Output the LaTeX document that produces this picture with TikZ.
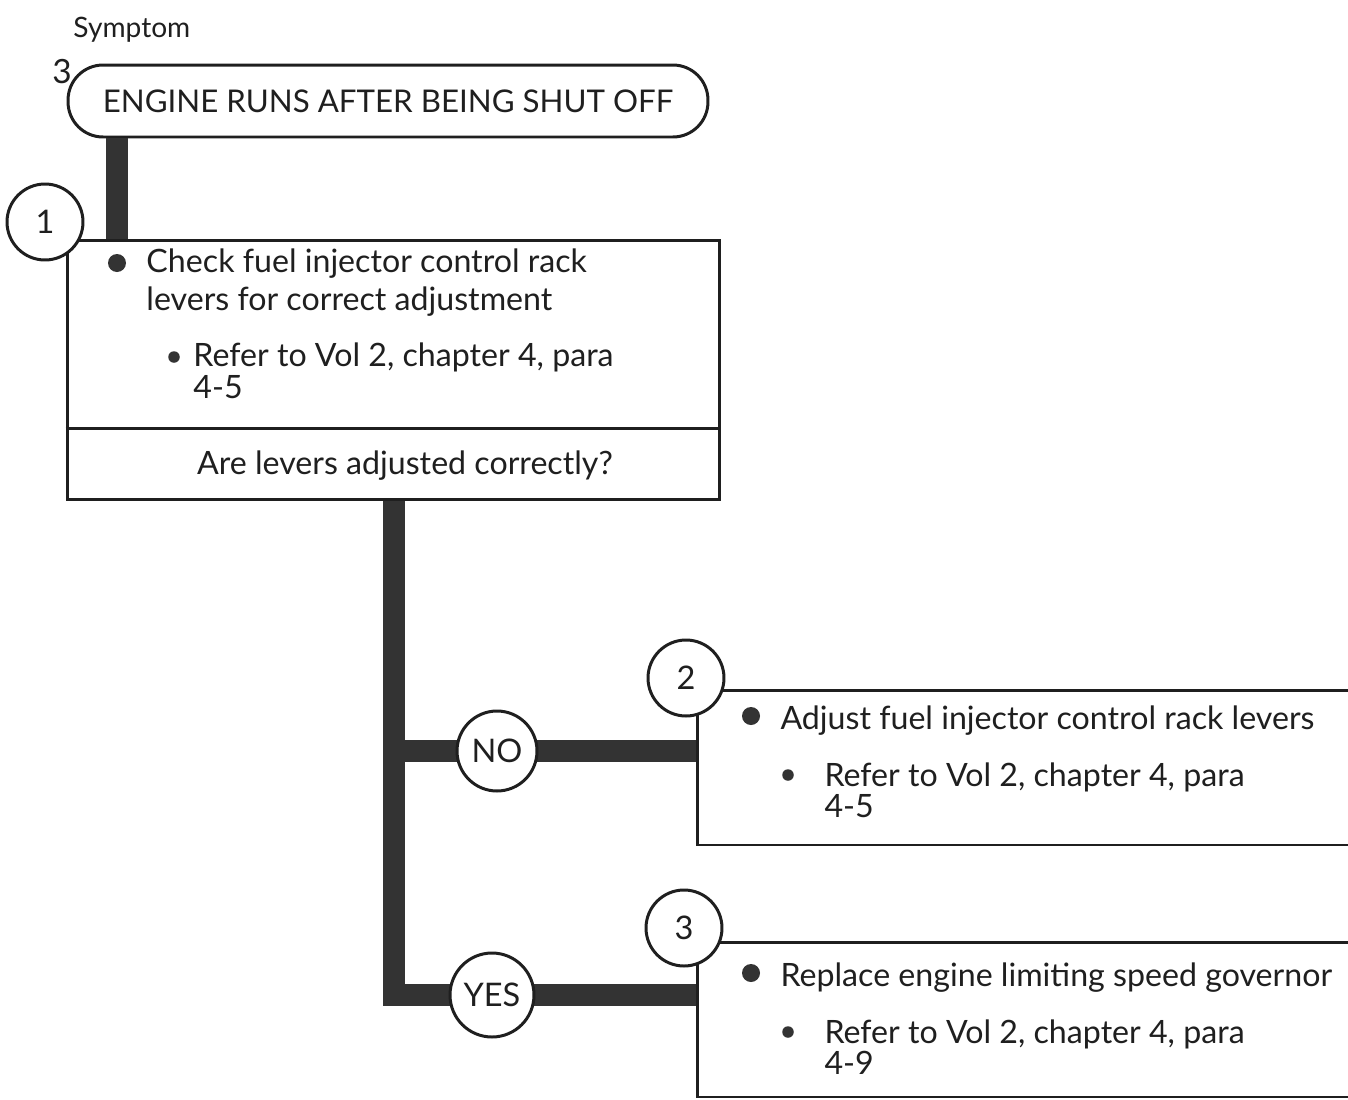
\documentclass[tikz,border=0pt]{standalone}
\usepackage{fontspec}
\setmainfont{Lato}
\usetikzlibrary{positioning,calc}

\begin{document}
\begin{tikzpicture}[x=0.02cm, y=-0.02cm, line width=1.7pt, color=black!88,
  box/.style={draw,fill=white,line width=1.7pt,inner sep=0pt},
  symbox/.style={draw,fill=white,line width=1.7pt,rounded corners=0.7cm,minimum width=12.8cm,minimum height=1.44cm,font=\fontsize{17.8}{20}\selectfont},
  num/.style={draw,circle,fill=white,line width=1.7pt,minimum size=1.52cm,inner sep=0pt,font=\fontsize{18.5}{22}\selectfont},
  bar/.style={line width=12pt,draw=black!80},
  txt/.style={anchor=base west,inner sep=0pt,font=\fontsize{18.3}{22}\selectfont},
  big/.style={circle,fill=black!80,minimum size=0.36cm,inner sep=0pt},
  dot/.style={circle,fill=black!80,minimum size=0.23cm,inner sep=0pt}]
  \useasboundingbox (0,0) rectangle (1348,1099);
  \clip (0,0) rectangle (1348,1099);
  \coordinate (lead) at (117,0);
  \coordinate (trunk) at (394,0);

  \node[txt,font=\fontsize{16}{19}\selectfont] (symlbl) at (72,37) {Symptom};
  \node[txt,font=\fontsize{19}{22}\selectfont] (symno) at (51,83) {3};
  \node[symbox] (sym) at (388,101) {ENGINE RUNS AFTER BEING SHUT OFF};

  \node[box,minimum width=13.06cm,minimum height=5.2cm] (chk) at (393.5,370) {};
  \draw (chk.west |- 0,428) -- (chk.east |- 0,428);

  \draw[bar] (sym.south -| lead) -- (chk.north -| lead);
  \node[num] (s1) at (45,222) {1};

  \node[big] (b1) at (117,263) {}; \node[txt] (t1) at (145,272) {Check fuel injector control rack};
  \node[txt] (t1b) at (145,310) {levers for correct adjustment};
  \node[dot] (d1) at (174,357) {}; \node[txt] (r1) at (192,366) {Refer to Vol 2, chapter 4, para};
  \node[txt] (p1) at (192,398) {4-5};
  \node[txt,anchor=base] (q1) at (405,474) {Are levers adjusted correctly?};

  \node[box,minimum width=14.06cm,minimum height=3.1cm] (adj) at (1048.5,767.5) {};
  \node[box,minimum width=14.06cm,minimum height=3.1cm] (gov) at (1048.5,1019.5) {};
  \node[num,minimum size=1.6cm,draw=none,fill=none] (no) at (497,751) {};
  \node[num,minimum size=1.68cm,draw=none,fill=none] (yes) at (492,995) {};
  \draw[bar] (chk.south -| trunk) |- (gov.west |- yes);
  \draw[bar] (trunk |- no) -- (adj.west |- no);
  \node[num,minimum size=1.6cm] at (no) {NO};
  \node[num,minimum size=1.68cm] at (yes) {YES};
  \node[num] (s2) at (686,678) {2};
  \node[num] (s3) at (684,928) {3};

  \foreach \n/\y/\main/\para in {2/718/Adjust fuel injector control rack levers/4-5,
                                   3/975/Replace engine limiting speed governor/4-9}{
    \node[big] (b\n) at (751,\y-2) {};
    \node[txt] (t\n) at (779,\y+11) {\main};
    \node[dot] (d\n) at (788,\y+57) {};
    \node[txt] (r\n) at (823,\y+68) {Refer to Vol 2, chapter 4, para};
    \node[txt] (p\n) at (823,\y+99) {\para};
  }
\end{tikzpicture}
\end{document}
